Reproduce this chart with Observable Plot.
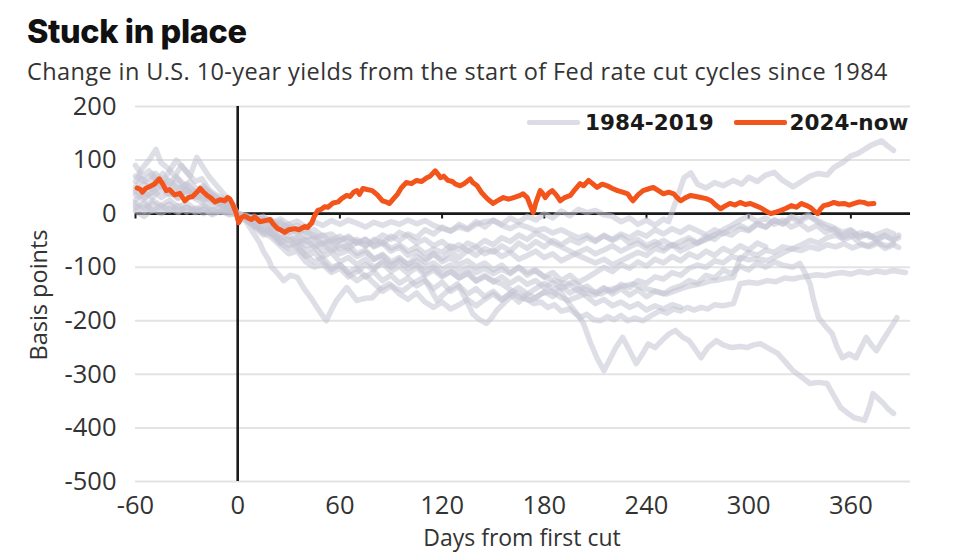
<!DOCTYPE html>
<html>
<head>
<meta charset="utf-8">
<script src="https://cdn.jsdelivr.net/npm/d3@7"></script>
<script src="https://cdn.jsdelivr.net/npm/@observablehq/plot@0.6"></script>
<style>
  html, body { margin: 0; padding: 0; background: #fff; }
  #wrap { position: relative; width: 971px; height: 552px; overflow: hidden; font-family: "Open Sans", sans-serif; color: #333; }
  #title { position: absolute; left: 27px; top: 16px; font-family: Inter, sans-serif; font-weight: 800; font-size: 32.5px; line-height: 32px; color: #111; letter-spacing: -0.4px; }
  #subtitle { position: absolute; left: 27px; top: 59px; font-size: 23.5px; line-height: 24px; letter-spacing: 0.4px; color: #333; white-space: nowrap; }
  #chart { position: absolute; left: 0; top: 90px; }
  #legend { position: absolute; top: 110px; left: 527px; height: 24px; display: flex; align-items: center; font-family: "DejaVu Sans", sans-serif; font-weight: bold; font-size: 21.5px; color: #1a1a1a; white-space: nowrap; }
  .sw { display: inline-block; width: 53px; height: 5px; margin-right: 5px; border-radius: 2px; }
  #xlabel { position: absolute; left: 522px; top: 525px; transform: translateX(-50%); font-size: 23px; line-height: 25px; color: #333; white-space: nowrap; }
  #ylabel { position: absolute; left: 38px; top: 295px; transform: translate(-50%, -50%) rotate(-90deg); font-size: 23.5px; line-height: 26px; color: #333; white-space: nowrap; }
</style>
</head>
<body>
<div id="wrap">
  <div id="title">Stuck in place</div>
  <div id="subtitle">Change in U.S. 10-year yields from the start of Fed rate cut cycles since 1984</div>
  <div id="chart"></div>
  <div id="legend">
    <span class="sw" id="swGray"></span><span id="lgGray"></span>
    <span class="sw" id="swOrange" style="margin-left:20px;margin-right:3px"></span><span id="lgOrange"></span>
  </div>
  <div id="xlabel"></div>
  <div id="ylabel"></div>
</div>
<script>
// ---- labels & ticks ----
const seriesNames = ["1984-2019", "2024-now"];
const xTicks = [-60, 0, 60, 120, 180, 240, 300, 360];
const yTicks = [-500, -400, -300, -200, -100, 0, 100, 200];
const xLabel = "Days from first cut";
const yLabel = "Basis points";

// ---- 2024-now: [day, bp change] ----
const cycle2024 = [[-59,48],[-57,45],[-56,40],[-54,47],[-52,50],[-49,55],[-46,65],[-44,55],[-42,43],[-40,45],[-37,35],[-34,38],[-31,24],[-29,30],[-26.5,32],[-24,40],[-22,47],[-20,40],[-18,34],[-16,30],[-13.5,22],[-10,26],[-7.6,24],[-6,30],[-4.7,28],[-3,18],[-1,2],[0.6,-17],[2,-8],[4,-4],[6,-8],[8,-11],[10,-6],[13,-15],[16,-13],[19,-11],[21,-20],[23.5,-28],[25,-30],[27.6,-35],[30,-30],[33.5,-28],[36,-30],[39.4,-24],[41,-26],[43.5,-17],[45,-5],[47,6],[49,8],[51,13],[53,12],[56,20],[59,22],[61,28],[64,34],[66,32],[68,40],[70,43],[71.5,36],[73.5,47],[76,45],[79,43],[82,35],[85,24],[87,22],[89,19],[91,26],[94,37],[96,48],[99,58],[102,56],[105,62],[108,60],[111,67],[113,70],[116,80],[118,72],[119,67],[121,70],[123.5,62],[126,60],[128,55],[130.6,52],[133,56],[136.5,65],[138,58],[140.6,52],[143,40],[146.5,28],[148,24],[150,19],[153,25],[156,30],[159,27],[162,30],[165,33],[167.6,37],[170,30],[171.8,15],[173.5,2],[175,20],[177.6,43],[179,38],[180.6,30],[182.5,38],[184.7,43],[187,35],[189.4,24],[192,30],[195.3,34],[198,45],[201,56],[203,52],[206,62],[208,57],[211,49],[214,55],[217,52],[220,47],[223,43],[226,40],[229,37],[230.5,30],[232,24],[235,35],[238,43],[241,46],[244,49],[247,43],[250,37],[253,40],[256,37],[258,30],[260,24],[263,30],[266,34],[269,32],[272,30],[275,28],[278,24],[281,15],[283.5,9],[286,14],[289,19],[292,16],[295,21],[298,17],[301,19],[304,15],[307,11],[310,5],[313,0],[316,3],[319,6],[322,10],[325,15],[328,12],[331,19],[334,15],[336.5,11],[338.5,5],[340.6,0],[342,8],[344,15],[347,17],[350,21],[353,18],[356,19],[359,16],[362,19],[365,22],[367.6,21],[370,18],[373.5,19]];

// ---- 1984-2019 cycles: [day, bp change] ----
const cycleA = [[-60,60],[-56,85],[-52,100],[-48,120],[-45,95],[-41,85],[-37,70],[-33,90],[-29,75],[-25,60],[-21,65],[-17,45],[-13,35],[-9,30],[-5,15],[-2,8],[0,0],[4,-8],[8,-15],[12,-28],[16,-22],[20,-38],[25,-45],[30,-40],[35,-55],[40,-48],[45,-62],[50,-55],[55,-70],[60,-58],[65,-66],[70,-52],[75,-60],[80,-48],[85,-56],[90,-42],[95,-50],[100,-38],[105,-45],[110,-30],[115,-38],[120,-25],[125,-33],[130,-20],[135,-28],[140,-15],[145,-25],[150,-12],[155,-20],[160,-8],[165,-16],[170,-5],[175,-12],[180,0],[185,-8],[190,5],[195,-4],[200,8],[205,2],[210,6],[215,-2],[220,-5],[225,-15],[230,-8],[235,-20],[240,-12],[245,-22],[250,-10],[253,-15],[258,30],[262,67],[266,76],[270,55],[275,48],[280,58],[285,52],[291,62],[296,55],[300,68],[305,60],[310,72],[315,77],[320,62],[326,50],[331,60],[336,70],[341,75],[346,72],[350,86],[355,95],[360,108],[364,112],[368,120],[372,128],[376,133],[378,136],[381,128],[385,118]];
const cycleB = [[-60,25],[-55,40],[-50,30],[-45,45],[-40,35],[-35,50],[-30,38],[-25,30],[-20,35],[-15,22],[-10,15],[-5,8],[0,0],[5,-12],[10,-25],[15,-40],[20,-35],[25,-55],[30,-65],[35,-58],[40,-78],[45,-90],[50,-82],[55,-100],[60,-95],[65,-110],[70,-102],[75,-118],[80,-108],[85,-125],[90,-115],[95,-130],[100,-120],[105,-135],[110,-125],[115,-140],[120,-128],[125,-145],[130,-135],[135,-150],[140,-140],[145,-155],[150,-145],[155,-160],[160,-150],[165,-165],[170,-150],[175,-158],[180,-145],[185,-155],[189,-144],[195,-170],[200,-190],[203,-205],[207,-240],[211,-270],[215,-293],[218,-275],[222,-250],[226,-231],[230,-255],[234,-280],[238,-260],[241,-243],[245,-250],[249,-237],[253,-225],[257,-218],[261,-230],[265,-237],[269,-255],[272,-269],[276,-250],[281,-237],[285,-245],[290,-250],[295,-248],[299,-250],[303,-245],[307,-243],[312,-252],[317,-261],[321,-275],[326,-293],[331,-305],[336,-317],[341,-315],[346,-317],[350,-340],[354,-362],[358,-372],[362,-381],[366,-384],[368,-386],[371,-360],[373,-336],[376,-345],[379,-354],[382,-365],[385,-373]];
const cycleC = [[-60,90],[-56,70],[-52,80],[-48,60],[-44,75],[-40,55],[-36,70],[-32,50],[-28,60],[-24,45],[-20,52],[-16,38],[-12,30],[-8,22],[-4,10],[0,0],[5,-10],[10,-22],[15,-35],[20,-30],[25,-48],[30,-60],[35,-52],[40,-70],[45,-62],[50,-80],[55,-72],[60,-90],[65,-82],[70,-95],[75,-85],[80,-100],[85,-92],[90,-108],[95,-98],[100,-112],[105,-100],[110,-115],[115,-105],[120,-118],[125,-108],[130,-120],[135,-110],[140,-125],[145,-115],[150,-128],[155,-118],[160,-130],[165,-120],[170,-132],[175,-125],[180,-138],[185,-128],[190,-140],[195,-132],[200,-145],[205,-135],[210,-148],[215,-138],[220,-150],[225,-140],[230,-152],[235,-142],[240,-155],[245,-145],[250,-150],[255,-140],[260,-135],[265,-125],[270,-130],[275,-115],[280,-120],[285,-105],[290,-112],[295,-98],[300,-105],[305,-92],[310,-100],[315,-90],[320,-96],[326,-100],[330,-93],[333,-110],[336,-131],[338,-160],[341,-194],[345,-210],[349,-224],[352,-250],[355,-269],[359,-262],[363,-269],[366,-250],[369,-231],[372,-245],[375,-256],[378,-240],[381,-225],[384,-210],[387,-194]];
const cycleD = [[-60,10],[-55,20],[-50,5],[-45,15],[-40,25],[-35,12],[-30,20],[-25,8],[-20,15],[-15,5],[-10,10],[-5,3],[0,0],[5,-5],[10,-15],[15,-10],[20,-25],[25,-20],[30,-35],[35,-28],[40,-45],[45,-40],[50,-55],[55,-48],[60,-65],[65,-58],[70,-75],[75,-68],[80,-85],[85,-78],[90,-95],[95,-88],[100,-102],[105,-95],[110,-110],[115,-100],[120,-115],[125,-108],[130,-120],[135,-112],[140,-126],[145,-118],[150,-125],[155,-131],[160,-142],[165,-150],[170,-160],[174,-168],[178,-165],[182,-175],[186,-170],[190,-182],[195,-178],[201,-194],[205,-188],[209,-198],[213,-200],[217,-192],[221,-198],[225,-190],[229,-200],[233,-195],[238,-200],[243,-190],[248,-181],[252,-186],[256,-178],[260,-182],[264,-175],[268,-180],[272,-175],[276,-178],[280,-170],[285,-172],[291,-168],[293,-150],[295,-131],[300,-128],[305,-130],[311,-125],[316,-127],[321,-120],[326,-122],[330,-119],[335,-117],[340,-114],[345,-116],[350,-112],[355,-110],[360,-113],[365,-108],[370,-111],[375,-107],[380,-110],[385,-106],[390,-109],[392,-110]];
const cycleE = [[-60,40],[-55,55],[-50,45],[-45,60],[-40,48],[-35,65],[-30,50],[-25,40],[-20,30],[-15,25],[-10,18],[-5,10],[0,0],[5,-8],[10,-18],[15,-30],[20,-25],[25,-40],[30,-50],[35,-45],[40,-60],[45,-55],[50,-70],[55,-62],[60,-75],[65,-68],[70,-80],[75,-72],[80,-85],[85,-76],[90,-90],[95,-82],[100,-95],[105,-88],[110,-100],[115,-92],[120,-104],[125,-96],[130,-108],[135,-100],[140,-110],[145,-102],[150,-112],[155,-104],[160,-112],[165,-100],[170,-110],[174,-106],[180,-118],[186,-125],[193,-131],[198,-128],[203,-140],[208,-145],[213,-150],[218,-142],[223,-138],[228,-134],[232,-131],[237,-138],[242,-142],[247,-146],[252,-150],[257,-144],[262,-138],[267,-134],[272,-131],[277,-126],[282,-124],[287,-120],[291,-119],[293,-100],[295,-82],[300,-86],[305,-84],[311,-88],[316,-80],[321,-72],[326,-65],[331,-58],[336,-50],[341,-55],[346,-45],[351,-40],[356,-48],[361,-42],[366,-35],[371,-44],[376,-38],[381,-32],[385,-37]];
const cycleF = [[-60,15],[-55,5],[-50,20],[-45,10],[-40,18],[-35,5],[-30,12],[-25,2],[-20,8],[-15,-2],[-10,5],[-5,0],[0,0],[3,-10],[5,-15],[8,-30],[10,-40],[13,-55],[15,-70],[18,-85],[20,-100],[23,-110],[27,-125],[31,-115],[35,-119],[39,-140],[44,-162],[48,-182],[52,-200],[55,-180],[58,-162],[61,-150],[64,-138],[67,-150],[70,-162],[75,-158],[79,-157],[84,-140],[89,-131],[93,-140],[97,-144],[103,-130],[109,-119],[113,-140],[117,-162],[123,-145],[129,-131],[134,-160],[138,-187],[142,-198],[146,-205],[149,-195],[152,-181],[157,-165],[162,-150],[167,-158],[172,-162],[178,-150],[184,-144],[189,-155],[194,-162],[200,-155],[205,-148],[210,-152],[215,-140],[220,-145],[225,-132],[230,-138],[235,-125],[240,-130],[245,-118],[250,-122],[255,-110],[260,-115],[265,-102],[270,-96],[275,-100],[280,-88],[285,-92],[290,-80],[295,-85],[300,-72],[305,-78],[310,-68],[315,-72],[320,-62],[326,-66],[331,-69],[336,-62],[341,-66],[346,-58],[351,-62],[356,-56],[361,-64],[366,-58],[371,-62],[376,-55],[381,-60],[385,-56]];
const cycleG = [[-60,50],[-56,65],[-52,55],[-48,75],[-44,60],[-40,80],[-36,100],[-32,85],[-28,70],[-24,105],[-21,90],[-17,70],[-13,55],[-9,40],[-5,25],[-2,12],[0,0],[5,-5],[10,-12],[15,-8],[20,-18],[25,-10],[30,-20],[35,-14],[40,-25],[45,-15],[50,-22],[55,-13],[60,-20],[65,-12],[70,-18],[75,-25],[80,-16],[85,-22],[90,-15],[95,-20],[100,-12],[105,-19],[110,-13],[115,-22],[120,-28],[125,-32],[130,-25],[135,-30],[140,-20],[145,-15],[150,-13],[155,-22],[160,-28],[165,-20],[170,-25],[175,-32],[180,-28],[185,-36],[190,-30],[195,-38],[200,-45],[205,-40],[210,-50],[215,-42],[220,-48],[225,-38],[230,-45],[235,-35],[240,-42],[245,-30],[250,-38],[255,-28],[260,-35],[265,-25],[270,-32],[275,-40],[280,-30],[285,-38],[290,-28],[295,-22],[300,-30],[305,-18],[310,-25],[315,-12],[320,-20],[325,-8],[330,-15],[335,-5],[340,-12],[345,-20],[350,-26],[355,-35],[360,-30],[365,-42],[370,-38],[375,-48],[380,-40],[385,-50],[388,-45]];
const cycleH = [[-60,35],[-55,25],[-50,45],[-45,30],[-40,40],[-35,28],[-30,45],[-25,35],[-20,25],[-15,30],[-10,18],[-5,10],[0,0],[5,-10],[10,-20],[15,-35],[20,-45],[25,-60],[30,-75],[35,-70],[40,-90],[45,-100],[50,-95],[55,-110],[60,-102],[65,-118],[70,-108],[75,-95],[80,-105],[85,-88],[90,-100],[95,-85],[100,-95],[105,-80],[110,-90],[115,-75],[120,-85],[125,-70],[130,-82],[135,-68],[140,-78],[145,-65],[150,-72],[155,-60],[160,-70],[165,-55],[170,-65],[175,-52],[180,-62],[185,-50],[190,-58],[195,-48],[200,-55],[205,-45],[210,-52],[215,-40],[220,-50],[225,-42],[230,-55],[235,-48],[240,-60],[245,-52],[250,-65],[255,-58],[260,-70],[265,-62],[270,-55],[275,-48],[280,-40],[285,-30],[290,-22],[295,-12],[300,-5],[305,-15],[310,-8],[315,-20],[320,-12],[325,-25],[330,-18],[335,-30],[340,-22],[345,-35],[350,-28],[355,-40],[360,-32],[365,-45],[370,-38],[375,-50],[380,-42],[385,-48],[388,-40]];
const cycleI = [[-60,20],[-55,10],[-50,25],[-45,15],[-40,5],[-35,15],[-30,3],[-25,10],[-20,0],[-15,8],[-10,2],[-5,5],[0,0],[5,-8],[10,-5],[15,-15],[20,-12],[25,-25],[30,-20],[35,-35],[40,-30],[45,-45],[50,-40],[55,-55],[60,-50],[65,-42],[70,-55],[75,-48],[80,-62],[85,-55],[90,-70],[95,-62],[100,-78],[105,-70],[110,-85],[115,-75],[120,-90],[125,-82],[130,-95],[135,-88],[140,-100],[145,-92],[150,-105],[155,-96],[160,-110],[165,-100],[170,-115],[175,-105],[180,-118],[185,-110],[190,-125],[195,-115],[200,-128],[205,-120],[210,-110],[215,-100],[220,-108],[225,-95],[230,-102],[235,-90],[240,-98],[245,-85],[250,-92],[255,-80],[260,-88],[265,-75],[270,-82],[275,-70],[280,-78],[285,-65],[290,-72],[295,-60],[300,-68],[305,-55],[310,-62]];
const cycleJ = [[-60,5],[-55,-5],[-50,8],[-45,0],[-40,10],[-35,2],[-30,12],[-25,5],[-20,10],[-15,0],[-10,5],[-5,-2],[0,0],[5,-5],[10,-12],[15,-8],[20,-20],[25,-15],[30,-28],[35,-22],[40,-35],[45,-30],[50,-42],[55,-38],[60,-50],[65,-45],[70,-55],[75,-48],[80,-60],[85,-52],[90,-65],[95,-58],[100,-70],[105,-62],[110,-75],[115,-66],[120,-72],[125,-60],[130,-68],[135,-55],[140,-62],[145,-50],[150,-58],[155,-45],[160,-52],[165,-40],[170,-48],[175,-36],[180,-44],[185,-55],[190,-62],[195,-70],[200,-78],[205,-85],[210,-92],[215,-85],[220,-95],[225,-88],[230,-80],[235,-72],[240,-78],[245,-65],[250,-70],[255,-58],[260,-62],[265,-50],[270,-55],[275,-42],[280,-48],[285,-35],[290,-40],[295,-28],[300,-32],[305,-20],[310,-25],[315,-12],[320,-18],[325,-5],[330,-10],[335,-2],[340,-15],[345,-25],[350,-32],[355,-45],[360,-40],[365,-55],[370,-60],[375,-52],[380,-65],[385,-58],[388,-63]];
const cycleK = [[-60,45],[-55,30],[-50,40],[-45,55],[-40,40],[-35,30],[-30,45],[-25,28],[-20,20],[-15,12],[-10,20],[-5,8],[0,0],[5,-12],[10,-25],[15,-22],[20,-40],[25,-55],[30,-48],[35,-65],[40,-80],[45,-72],[50,-90],[55,-105],[60,-95],[65,-112],[70,-125],[75,-115],[80,-130],[85,-145],[90,-135],[95,-150],[100,-160],[105,-148],[110,-165],[115,-175],[120,-165],[125,-178],[130,-170],[135,-160],[140,-172],[145,-160],[150,-150],[155,-162],[160,-148],[165,-138],[170,-150],[175,-140],[180,-130],[185,-142],[190,-135],[195,-148],[200,-140],[205,-155],[210,-168],[215,-160],[220,-172],[225,-165],[230,-175],[235,-168],[240,-180],[245,-172],[250,-178],[255,-170],[260,-175]];
const cycleL = [[-60,70],[-55,60],[-50,75],[-45,50],[-40,62],[-35,45],[-30,55],[-25,40],[-20,48],[-15,35],[-10,25],[-5,12],[0,0],[5,-3],[10,-10],[15,-5],[20,-15],[25,-30],[30,-25],[35,-40],[40,-52],[45,-45],[50,-58],[55,-50],[60,-42],[65,-55],[70,-48],[75,-60],[80,-52],[85,-40],[90,-48],[95,-35],[100,-42],[105,-55],[110,-48],[115,-60],[120,-52],[125,-65],[130,-58],[135,-70],[140,-62],[145,-75],[150,-68],[155,-80],[160,-72],[165,-85],[170,-78],[175,-70],[180,-82],[185,-75],[190,-88],[195,-80],[200,-72],[205,-65],[210,-75],[215,-68],[220,-60],[225,-70],[230,-62],[235,-55],[240,-65],[245,-58],[250,-50],[255,-60],[260,-52],[265,-45],[270,-55],[275,-48],[280,-40]];

const historical = [cycleA, cycleB, cycleC, cycleD, cycleE, cycleF, cycleG, cycleH, cycleI, cycleJ, cycleK, cycleL];

// ---- build tables ----
const grayRows = historical.flatMap((s, i) => s.map(([day, bp]) => ({cycle: i, day, bp})));
const orangeRows = cycle2024.map(([day, bp]) => ({day, bp}));

const GRAY = "#c2c2d2";
const ORANGE = "#f2541b";

const chart = Plot.plot({
  width: 971,
  height: 462,
  marginTop: 16,
  marginBottom: 71,
  marginLeft: 135,
  marginRight: 61,
  style: {fontFamily: "'Open Sans', sans-serif", fontSize: "25.5px", color: "#333", background: "#fff", overflow: "visible"},
  x: {domain: [-60, 395], ticks: xTicks, tickSize: 0, tickPadding: 14, tickFormat: d => String(d), label: null},
  y: {domain: [-500, 200], ticks: yTicks, tickSize: 0, tickPadding: 19, tickFormat: d => String(d), label: null},
  marks: [
    Plot.ruleY(yTicks, {stroke: "#e3e3e3", strokeWidth: 2}),
    Plot.ruleY([0], {stroke: "#1a1a1a", strokeWidth: 2.6}),
    Plot.ruleX(xTicks.filter(d => d !== 0), {x: d => d, y1: 0, y2: -10, stroke: "#1a1a1a", strokeWidth: 2}),
    Plot.ruleX([0], {y1: -500, y2: 200, stroke: "#1a1a1a", strokeWidth: 2.6}),
    Plot.line(grayRows, {x: "day", y: "bp", z: "cycle", stroke: GRAY, strokeOpacity: 0.55, strokeWidth: 5.5, strokeLinejoin: "round", strokeLinecap: "round"}),
    Plot.line(orangeRows, {x: "day", y: "bp", stroke: ORANGE, strokeWidth: 5, strokeLinejoin: "round", strokeLinecap: "round"})
  ]
});
document.getElementById("chart").appendChild(chart);

document.getElementById("swGray").style.background = "#dcdce4";
document.getElementById("swOrange").style.background = ORANGE;
document.getElementById("lgGray").textContent = seriesNames[0];
document.getElementById("lgOrange").textContent = seriesNames[1];
document.getElementById("xlabel").textContent = xLabel;
document.getElementById("ylabel").textContent = yLabel;
</script>
</body>
</html>
